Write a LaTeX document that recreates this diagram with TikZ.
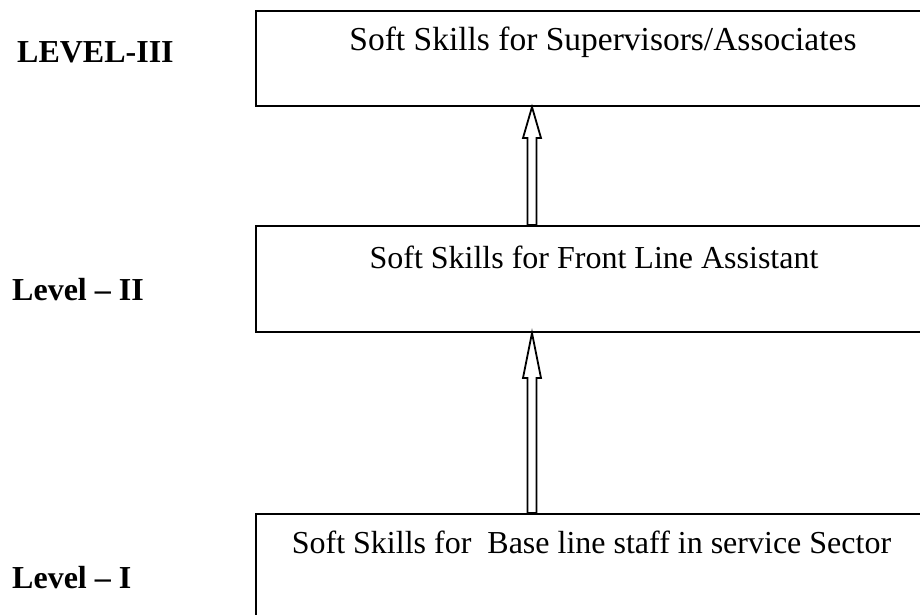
\documentclass[tikz,border=0pt]{standalone}
\usepackage{fontspec}
\setmainfont{Liberation Serif}
\usepackage{tikz}
\usetikzlibrary{calc}

\begin{document}
\begin{tikzpicture} [
  x=1pt, y=-1pt,
  stage/.style={rectangle,draw,line width=2pt,anchor=north west,
    inner xsep=0pt,inner ysep=0pt,font=\fontsize{32}{38}\selectfont},
  tag/.style={anchor=base west,inner sep=0pt,font=\fontsize{32}{38}\selectfont\bfseries},
  hollow/.style={draw,line width=1.8pt,line join=miter}]

\useasboundingbox (0,0) rectangle (920,615);

\node[stage,minimum width=694pt,text height=40pt,text depth=55pt,
  font=\fontsize{33.5}{40}\selectfont] (lvl3) at (255,10)
  {Soft Skills for Supervisors/Associates};
\node[stage,minimum width=676pt,text height=42pt,text depth=64pt] (lvl2) at (255,225)
  {Soft Skills for Front Line Assistant};
\node[stage,minimum width=671pt,text height=39pt,text depth=78pt] (lvl1) at (255,513)
  {Soft Skills for\ \ Base line staff in service Sector};

\node[tag] (tag3) at (17,63) {LEVEL-III};
\node[tag] (tag2) at (12,300) {Level -- II};
\node[tag] (tag1) at (12,588) {Level -- I};

% hollow arrows between the levels
\coordinate (ax) at (532,0);
\coordinate (t2) at (lvl3.south -| ax);
\coordinate (b2) at (lvl2.north -| ax);
\coordinate (t1) at (lvl2.south -| ax);
\coordinate (b1) at (lvl1.north -| ax);

\draw[hollow] (t2) -- ++(9,31) -- ++(-4.5,0) -- ($(b2)+(4.5,0)$)
  -- ($(b2)+(-4.5,0)$) -- ($(t2)+(-4.5,31)$) -- ++(-4.5,0) -- cycle;
\draw[hollow] (t1) -- ++(9,45) -- ++(-4.5,0) -- ($(b1)+(4.5,0)$)
  -- ($(b1)+(-4.5,0)$) -- ($(t1)+(-4.5,45)$) -- ++(-4.5,0) -- cycle;
\end{tikzpicture}
\end{document}
